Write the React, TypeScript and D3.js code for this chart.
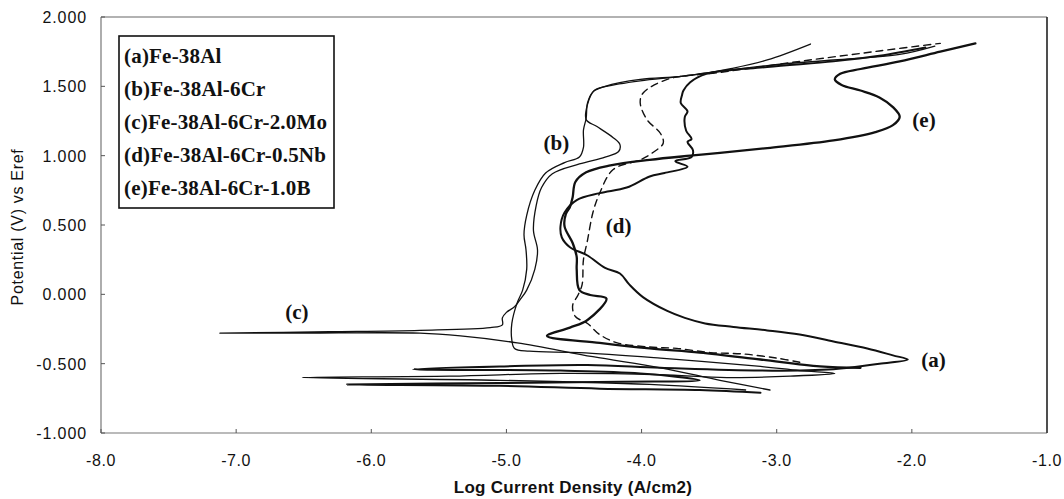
import React from "react";
import * as d3 from "d3";

type P = [number, number];

const xTicks = [-8, -7, -6, -5, -4, -3, -2, -1];
const yTicks = [-1, -0.5, 0, 0.5, 1, 1.5, 2];
const legendLabels = [
  "(a)Fe-38Al",
  "(b)Fe-38Al-6Cr",
  "(c)Fe-38Al-6Cr-2.0Mo",
  "(d)Fe-38Al-6Cr-0.5Nb",
  "(e)Fe-38Al-6Cr-1.0B",
];

// (log current density, potential)
const seriesA: P[] = [
  [-3.12, -0.71], [-3.57, -0.69], [-4.31, -0.68], [-5.05, -0.66], [-6.18, -0.65],
  [-5.05, -0.64], [-4.16, -0.63], [-3.57, -0.62], [-4.01, -0.57], [-4.6, -0.55],
  [-5.69, -0.54], [-5.05, -0.52], [-4.4, -0.51], [-3.86, -0.53], [-3.12, -0.55],
  [-2.58, -0.54], [-2.24, -0.5], [-2.03, -0.47], [-2.14, -0.44], [-2.33, -0.39],
  [-2.58, -0.34], [-2.83, -0.29], [-3.07, -0.26], [-3.32, -0.235], [-3.53, -0.21],
  [-3.68, -0.17], [-3.81, -0.12], [-3.99, -0.02], [-4.09, 0.07], [-4.16, 0.15],
  [-4.27, 0.19], [-4.4, 0.28], [-4.53, 0.34], [-4.59, 0.41], [-4.6, 0.49],
  [-4.57, 0.59], [-4.48, 0.68], [-4.31, 0.73], [-4.11, 0.77], [-3.94, 0.85],
  [-3.83, 0.875], [-3.66, 0.92], [-3.75, 0.96], [-3.63, 0.99], [-3.62, 1.04],
  [-3.66, 1.1], [-3.63, 1.12], [-3.67, 1.18], [-3.68, 1.28], [-3.66, 1.32],
  [-3.71, 1.38], [-3.7, 1.44], [-3.69, 1.47], [-3.64, 1.53], [-3.52, 1.59],
  [-3.07, 1.64], [-2.58, 1.68], [-2.24, 1.72], [-1.9, 1.78],
];

const seriesB: P[] = [
  [-3.23, -0.69], [-3.94, -0.65], [-5.05, -0.62], [-6.51, -0.6], [-5.42, -0.59],
  [-4.6, -0.57], [-3.86, -0.58], [-3.37, -0.6], [-2.9, -0.59], [-2.57, -0.57],
  [-2.83, -0.55], [-3.12, -0.52], [-3.86, -0.46], [-4.46, -0.42], [-4.83, -0.41],
  [-4.94, -0.39], [-4.96, -0.33], [-4.96, -0.21], [-4.92, -0.06], [-4.88, 0.03],
  [-4.85, 0.18], [-4.855, 0.32], [-4.87, 0.43], [-4.85, 0.57], [-4.79, 0.75],
  [-4.71, 0.875], [-4.57, 0.95], [-4.46, 0.99], [-4.43, 1.06], [-4.43, 1.185],
  [-4.41, 1.27], [-4.4, 1.38], [-4.36, 1.46], [-4.27, 1.5], [-4.01, 1.55],
  [-3.72, 1.57], [-3.49, 1.6], [-3.35, 1.625], [-3.07, 1.69], [-2.75, 1.805],
];

const seriesC: P[] = [
  [-3.05, -0.69], [-3.42, -0.62], [-3.86, -0.53], [-4.36, -0.45], [-4.92, -0.35],
  [-5.34, -0.3], [-5.64, -0.28], [-6.53, -0.28], [-7.12, -0.28], [-6.31, -0.27],
  [-5.64, -0.26], [-5.12, -0.24], [-5.03, -0.22], [-5.03, -0.17], [-5.0, -0.13],
  [-4.94, -0.09], [-4.9, -0.04], [-4.85, 0.03], [-4.79, 0.18], [-4.77, 0.32],
  [-4.8, 0.46], [-4.78, 0.64], [-4.74, 0.77], [-4.66, 0.87], [-4.46, 0.94],
  [-4.27, 0.99], [-4.17, 1.03], [-4.16, 1.08], [-4.21, 1.13], [-4.33, 1.21],
  [-4.41, 1.26], [-4.4, 1.37], [-4.35, 1.47], [-4.26, 1.5], [-4.01, 1.54],
  [-3.72, 1.57], [-3.49, 1.6], [-3.07, 1.65], [-2.58, 1.69], [-2.09, 1.73],
  [-1.83, 1.79],
];

const seriesD: P[] = [
  [-2.83, -0.49], [-3.0, -0.46], [-3.25, -0.43], [-3.49, -0.42], [-3.74, -0.39],
  [-3.94, -0.38], [-4.18, -0.35], [-4.31, -0.29], [-4.4, -0.21], [-4.49, -0.16],
  [-4.51, -0.08], [-4.47, -0.005], [-4.44, 0.07], [-4.43, 0.25], [-4.4, 0.39],
  [-4.36, 0.59], [-4.31, 0.73], [-4.21, 0.9], [-4.01, 0.97], [-3.92, 1.02],
  [-3.84, 1.09], [-3.86, 1.16], [-3.96, 1.26], [-4.01, 1.38], [-3.99, 1.45],
  [-3.81, 1.55], [-3.42, 1.6], [-2.83, 1.68], [-2.24, 1.755], [-1.79, 1.81],
];

const seriesE: P[] = [
  [-2.38, -0.53], [-2.68, -0.52], [-3.12, -0.47], [-3.57, -0.42], [-3.94, -0.39],
  [-4.31, -0.35], [-4.7, -0.3], [-4.53, -0.24], [-4.4, -0.185], [-4.26, -0.03],
  [-4.38, -0.005], [-4.46, 0.03], [-4.48, 0.18], [-4.48, 0.27], [-4.51, 0.37],
  [-4.57, 0.49], [-4.56, 0.58], [-4.53, 0.63], [-4.51, 0.7], [-4.49, 0.81],
  [-4.41, 0.88], [-4.23, 0.93], [-3.94, 0.97], [-3.64, 1.0], [-3.42, 1.02],
  [-3.07, 1.055], [-2.58, 1.11], [-2.27, 1.17], [-2.14, 1.22], [-2.09, 1.28],
  [-2.14, 1.35], [-2.24, 1.42], [-2.38, 1.47], [-2.52, 1.51], [-2.57, 1.55],
  [-2.53, 1.59], [-2.38, 1.625], [-2.09, 1.68], [-1.79, 1.75], [-1.53, 1.81],
];

const curveLabels: { text: string; at: P }[] = [
  { text: "(a)", at: [-1.84, -0.47] },
  { text: "(b)", at: [-4.63, 1.09] },
  { text: "(c)", at: [-6.55, -0.13] },
  { text: "(d)", at: [-4.17, 0.49] },
  { text: "(e)", at: [-1.91, 1.26] },
];

const W = 1064;
const H = 499;
const L = 101, R = 1047, T = 17, B = 433;

const locale = d3.formatLocale({
  decimal: ".",
  thousands: ",",
  grouping: [3],
  currency: ["", ""],
  minus: "-",
});

export default function App() {
  const x = d3.scaleLinear().domain([-8, -1]).range([L, R]);
  const y = d3.scaleLinear().domain([-1, 2]).range([B, T]);
  const line = d3
    .line<P>()
    .x((d) => x(d[0]))
    .y((d) => y(d[1]))
    .curve(d3.curveCatmullRom.alpha(0.5));

  const series = [
    { data: seriesB, w: 1.3, dash: undefined as string | undefined },
    { data: seriesC, w: 1.3, dash: undefined },
    { data: seriesD, w: 1.4, dash: "7,5" },
    { data: seriesA, w: 2.0, dash: undefined },
    { data: seriesE, w: 2.3, dash: undefined },
  ];

  const fy = locale.format(".3f");
  const fx = locale.format(".1f");
  const sans = "'Liberation Sans', Arial, sans-serif";
  const serif = "'Liberation Serif', 'Times New Roman', serif";

  return (
    <svg
      width={W}
      height={H}
      style={{ position: "absolute", left: 0, top: 0, background: "#fff" }}
    >
      <rect x={0} y={0} width={W} height={H} fill="#fff" />
      {/* frame */}
      <line x1={L} y1={T} x2={R} y2={T} stroke="#666" strokeWidth={1.2} />
      <line x1={L} y1={T} x2={L} y2={B} stroke="#777" strokeWidth={1.2} />
      <line x1={L} y1={B} x2={R} y2={B} stroke="#777" strokeWidth={1.2} />
      <line x1={R} y1={T} x2={R} y2={B} stroke="#222" strokeWidth={1.6} />
      {/* ticks */}
      {xTicks.map((t) => (
        <g key={"x" + t}>
          <line x1={x(t)} x2={x(t)} y1={B} y2={B - 4} stroke="#555" />
          <text
            x={x(t)}
            y={B + 33}
            textAnchor="middle"
            fontFamily={sans}
            fontSize={16}
            letterSpacing={0.6}
            fill="#111"
          >
            {fx(t)}
          </text>
        </g>
      ))}
      {yTicks.map((t) => (
        <g key={"y" + t}>
          <line x1={L} x2={L + 4} y1={y(t)} y2={y(t)} stroke="#555" />
          <text
            x={87}
            y={y(t) + 6}
            textAnchor="end"
            fontFamily={sans}
            fontSize={16}
            letterSpacing={0.9}
            fill="#111"
          >
            {fy(t)}
          </text>
        </g>
      ))}
      {/* axis titles */}
      <text
        transform={`translate(23, ${(T + B) / 2 + 2}) rotate(-90)`}
        textAnchor="middle"
        fontFamily={sans}
        fontSize={16}
        letterSpacing={0.7}
        fill="#111"
      >
        Potential (V) vs Eref
      </text>
      <text
        x={573}
        y={493}
        textAnchor="middle"
        fontFamily={sans}
        fontWeight="bold"
        fontSize={17}
        letterSpacing={0.3}
        fill="#111"
      >
        Log Current Density (A/cm2)
      </text>
      {/* curves */}
      {series.map((s, i) => (
        <path
          key={i}
          d={line(s.data) || ""}
          fill="none"
          stroke="#111"
          strokeWidth={s.w}
          strokeDasharray={s.dash}
          strokeLinejoin="round"
          strokeLinecap="round"
        />
      ))}
      {/* curve labels */}
      {curveLabels.map((c) => (
        <text
          key={c.text}
          x={x(c.at[0])}
          y={y(c.at[1]) + 7}
          textAnchor="middle"
          fontFamily={serif}
          fontWeight="bold"
          fontSize={21}
          fill="#111"
        >
          {c.text}
        </text>
      ))}
      {/* legend */}
      <rect x={119} y={36} width={215} height={172} fill="#fff" stroke="#111" strokeWidth={1.6} />
      {legendLabels.map((t, i) => (
        <text
          key={t}
          x={124}
          y={63 + i * 33}
          fontFamily={serif}
          fontWeight="bold"
          fontSize={21}
          letterSpacing={0.2}
          fill="#111"
        >
          {t}
        </text>
      ))}
    </svg>
  );
}
